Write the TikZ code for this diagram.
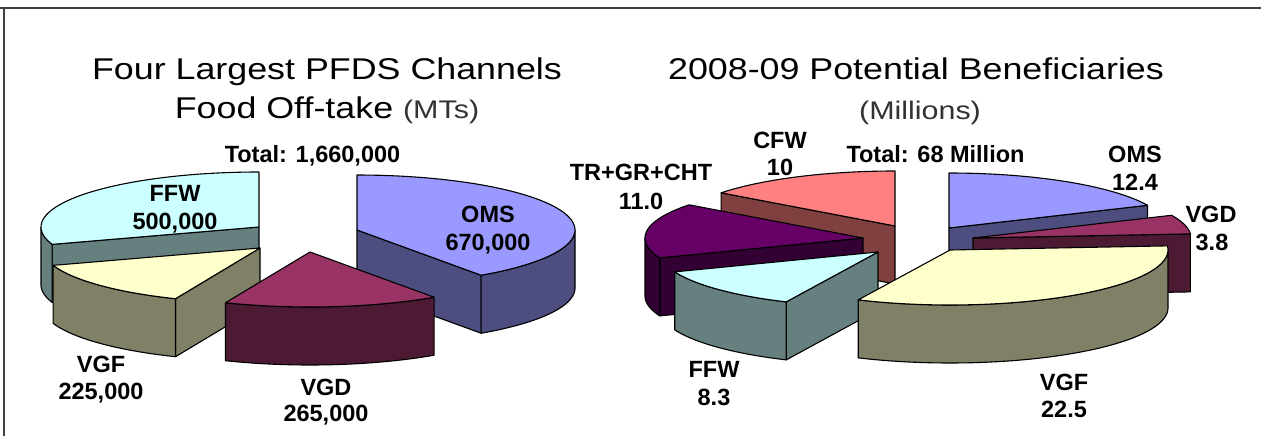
\documentclass[tikz,border=0pt]{standalone}
\usepackage{fontspec}
\usepackage{graphicx}
\setmainfont{Liberation Sans}
\definecolor{omsT}{HTML}{9999FF}\definecolor{omsS}{HTML}{4D4D80}
\definecolor{vgdT}{HTML}{993366}\definecolor{vgdS}{HTML}{4D1A33}
\definecolor{vgfT}{HTML}{FFFFCC}\definecolor{vgfS}{HTML}{808066}
\definecolor{ffwT}{HTML}{CCFFFF}\definecolor{ffwS}{HTML}{668080}
\definecolor{cfwT}{HTML}{FF8080}\definecolor{cfwS}{HTML}{804040}
\definecolor{trT}{HTML}{660066}\definecolor{trS}{HTML}{330033}
\newcommand\prx{218}
\newcommand\pry{55}
\newcommand\pdp{58}
% top face: cx cy a b fill
\newcommand\pietop[5]{\filldraw[pieedge, fill=#5] (#1,#2) -- plot[domain=#3:#4, samples=50] ({#1+\prx*cos(\x)},{#2-\pry*sin(\x)}) -- cycle;}
% curved side: cx cy t1 t2 fill
\newcommand\piecurve[5]{\filldraw[pieedge, fill=#5] plot[domain=#3:#4, samples=50] ({#1+\prx*cos(\x)},{#2-\pry*sin(\x)}) -- plot[domain=#4:#3, samples=50] ({#1+\prx*cos(\x)},{#2+\pdp-\pry*sin(\x)}) -- cycle;}
% radial side: cx cy theta fill
\newcommand\pieradial[4]{\filldraw[pieedge, fill=#4] (#1,#2) -- ({#1+\prx*cos(#3)},{#2-\pry*sin(#3)}) -- ({#1+\prx*cos(#3)},{#2+\pdp-\pry*sin(#3)}) -- ({#1},{#2+\pdp}) -- cycle;}
\begin{document}
\begin{tikzpicture}[x=1pt,y=-1pt,
  pieedge/.style={draw=black, line width=1.1pt, line join=round},
  lbl/.style={font=\fontsize{23.5}{28}\selectfont\bfseries, anchor=base, inner sep=0pt},
  ttl/.style={font=\fontsize{30}{34}\selectfont, anchor=base, inner sep=0pt},
  sub/.style={font=\fontsize{25.5}{30}\selectfont, text=black!80, anchor=base, inner sep=0pt},
  frame/.style={draw=black!75, line width=2.5pt}]
\fill[white] (0,0) rectangle (1261,436);
\useasboundingbox (0,0) rectangle (1261,436);
\draw[frame] (0,8) -- (1261,8);
\draw[frame] (4,8) -- (4,436);

% ---------- left pie ----------
% FFW
\pieradial{259}{227}{198.4}{ffwS}
\piecurve{259}{227}{180}{198.4}{ffwS}
\pietop{259}{227}{90}{198.4}{ffwT}
% OMS
\pieradial{357}{230}{-55.3}{omsS}
\piecurve{357}{230}{-55.3}{0}{omsS}
\pietop{357}{230}{-55.3}{90}{omsT}
% VGF
\pieradial{260}{248}{-112.8}{vgfS}
\piecurve{260}{248}{-161.6}{-112.8}{vgfS}
\pietop{260}{248}{-161.6}{-112.8}{vgfT}
% VGD
\piecurve{310}{252}{-112.8}{-55.3}{vgdS}
\pietop{310}{252}{-112.8}{-55.3}{vgdT}

% ---------- right pie ----------
% CFW
\pieradial{895}{226}{142.9}{cfwS}
\pietop{895}{226}{90}{142.9}{cfwT}
% OMS
\pieradial{949}{228}{24.4}{omsS}
\pietop{949}{228}{24.4}{90}{omsT}
% TR+GR+CHT
\pieradial{863}{238}{201.2}{trS}
\piecurve{863}{238}{180}{201.2}{trS}
\pietop{863}{238}{142.9}{201.2}{trT}
% VGD
\pieradial{973}{238}{4.3}{vgdS}
\pietop{973}{238}{4.3}{24.4}{vgdT}
% FFW
\pieradial{878}{252}{-114.9}{ffwS}
\piecurve{878}{252}{-158.8}{-114.9}{ffwS}
\pietop{878}{252}{-158.8}{-114.9}{ffwT}
% VGF
\piecurve{950}{250}{-114.9}{0}{vgfS}
\pietop{950}{250}{-114.9}{4.3}{vgfT}

% ---------- titles ----------
\node[ttl] (t1a) at (327,79.5) {\scalebox{1.194}[1]{Four Largest PFDS Channels}};
\node[ttl] (t1b) at (327,118) {\scalebox{1.194}[1]{Food Off-take {\fontsize{25.5}{30}\selectfont\color{black!80}(MTs)}}};
\node[ttl] (t2a) at (916,79.5) {\scalebox{1.194}[1]{2008-09 Potential Beneficiaries}};
\node[sub] (t2b) at (920,119) {\scalebox{1.194}[1]{(Millions)}};

% ---------- labels left ----------
\node[lbl] (ltot) at (312.5,162) {Total: 1,660,000};
\node[lbl] (lffw1) at (175,201.5) {FFW};
\node[lbl] (lffw2) at (175,229.5) {500,000};
\node[lbl] (loms1) at (488,222) {OMS};
\node[lbl] (loms2) at (488,250) {670,000};
\node[lbl] (lvgf1) at (101,372) {VGF};
\node[lbl] (lvgf2) at (101,399) {225,000};
\node[lbl] (lvgd1) at (326,395) {VGD};
\node[lbl] (lvgd2) at (326,421) {265,000};

% ---------- labels right ----------
\node[lbl] (rtot) at (935.5,162) {Total: 68 Million};
\node[lbl] (rcfw1) at (780,148.5) {CFW};
\node[lbl] (rcfw2) at (780,175.5) {10};
\node[lbl] (rtr1) at (641,180) {TR+GR+CHT};
\node[lbl] (rtr2) at (641,209) {11.0};
\node[lbl] (roms1) at (1135,162) {OMS};
\node[lbl] (roms2) at (1135,190.5) {12.4};
\node[lbl] (rvgd1) at (1211,222) {VGD};
\node[lbl] (rvgd2) at (1212,250) {3.8};
\node[lbl] (rffw1) at (714,377) {FFW};
\node[lbl] (rffw2) at (714,405) {8.3};
\node[lbl] (rvgf1) at (1064,390) {VGF};
\node[lbl] (rvgf2) at (1064,417) {22.5};
\end{tikzpicture}
\end{document}
